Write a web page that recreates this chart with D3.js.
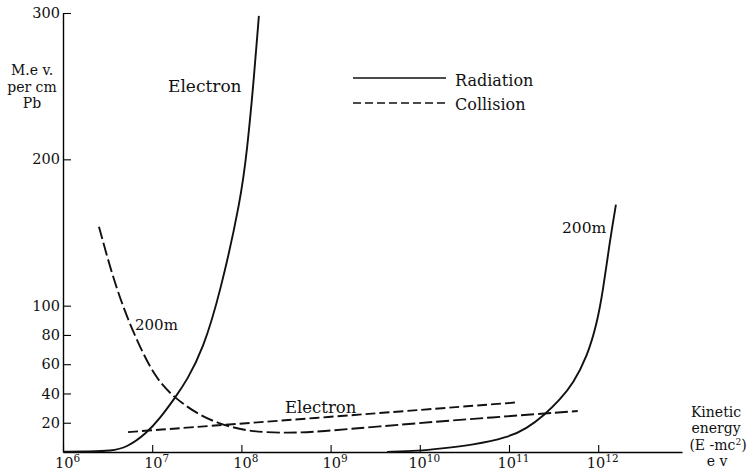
<!DOCTYPE html>
<html>
<head>
<meta charset="utf-8">
<script src="https://cdn.jsdelivr.net/npm/d3@7/dist/d3.min.js"></script>
<style>
  body { margin: 0; background: #fff; }
  text { font-family: "DejaVu Serif", serif; fill: #111; }
</style>
</head>
<body>
<script>
// energy loss of electrons and 200m particles in lead
const xTicks = [1e6, 1e7, 1e8, 1e9, 1e10, 1e11, 1e12];
const yTicks = [20, 40, 60, 80, 100, 200, 300];

// electron, radiation
const eRadE = [1e6, 2e6, 3.4e6, 5.2e6, 8.7e6, 1.22e7, 1.8e7, 2.45e7, 3.7e7, 5.75e7, 9.9e7, 1.16e8, 1.35e8, 1.57e8];
const eRadV = [0.2, 0.3, 0.7, 3, 13, 23, 37, 49, 70, 108, 173, 207, 248, 298];

// 200m, radiation
const mRadE = [4.3e9, 9.8e9, 1.68e10, 3.94e10, 9.5e10, 1.58e11, 2.5e11, 3.7e11, 5.25e11, 7.5e11, 9.7e11, 1.13e12, 1.35e12, 1.58e12];
const mRadV = [0, 0.8, 2.3, 4.8, 9.7, 16, 25.4, 35.5, 47, 65, 88, 110, 144, 169];

// 200m, collision
const mColE = [2.53e6, 3.37e6, 4.7e6, 6.76e6, 1.07e7, 1.8e7, 3.44e7, 5.3e7, 1.16e8, 3.5e8, 7.6e8, 3.58e9, 1.7e10, 5.9e11];
const mColV = [154, 126, 99, 76, 51, 36.5, 25, 20, 13.8, 12.9, 14, 17.5, 21, 28];

// electron, collision
const eColE = [5.36e6, 1e9, 1.29e11];
const eColV = [13.6, 24, 34];

const width = 754, height = 474;

const svg = d3.select("body").append("svg")
  .attr("width", width)
  .attr("height", height);

const x = d3.scaleLog().domain([1e6, 8.7e12]).range([63, 682]);
const y = d3.scaleLinear().domain([0, 300]).range([452, 13]);

// axes
const xAxis = svg.append("g")
  .attr("transform", `translate(0,${y(0)})`)
  .call(d3.axisBottom(x).tickValues(xTicks).tickSizeInner(-7).tickSizeOuter(0).tickFormat(""));
xAxis.select(".domain").attr("stroke-width", 1.4);
xAxis.selectAll(".tick line").attr("stroke-width", 1.1);
xAxis.selectAll(".tick").each(function(d) {
  const t = d3.select(this).append("text")
    .attr("x", 4)
    .attr("y", 16)
    .attr("text-anchor", "middle")
    .attr("font-size", 14.5);
  t.append("tspan").text("10");
  t.append("tspan").attr("dy", -6).attr("font-size", 10.5).text(Math.round(Math.log10(d)));
});

const yAxis = svg.append("g")
  .attr("transform", `translate(${x(1e6)},0)`)
  .call(d3.axisLeft(y).tickValues(yTicks).tickSizeInner(-8).tickSizeOuter(0).tickPadding(3));
yAxis.select(".domain").attr("stroke-width", 1.4);
yAxis.selectAll(".tick line").attr("stroke-width", 1.1);
yAxis.selectAll(".tick text").attr("font-size", 14.5);

// curves
const line = d3.line()
  .x(d => x(d[0]))
  .y(d => y(d[1]))
  .curve(d3.curveBasis);

const curves = [
  {E: eRadE, V: eRadV, dash: null},
  {E: mRadE, V: mRadV, dash: null},
  {E: mColE, V: mColV, dash: "13,4"},
  {E: eColE, V: eColV, dash: "10,4"}
];

svg.selectAll("path.curve")
  .data(curves)
  .join("path")
  .attr("class", "curve")
  .attr("d", c => line(d3.zip(c.E, c.V)))
  .attr("fill", "none")
  .attr("stroke", "#111")
  .attr("stroke-width", 1.9)
  .attr("stroke-dasharray", c => c.dash);

// curve labels
const labels = [
  {t: "Electron", x: 168, y: 92, s: 17},
  {t: "200m", x: 135, y: 330, s: 15},
  {t: "Electron", x: 285, y: 413, s: 16.5},
  {t: "200m", x: 562, y: 233, s: 15.5}
];
svg.selectAll("text.lbl")
  .data(labels)
  .join("text")
  .attr("class", "lbl")
  .attr("x", d => d.x)
  .attr("y", d => d.y)
  .attr("font-size", d => d.s)
  .text(d => d.t);

// legend
const legend = svg.append("g");
legend.append("line").attr("x1", 353).attr("x2", 446).attr("y1", 78).attr("y2", 78)
  .attr("stroke", "#111").attr("stroke-width", 1.3);
legend.append("line").attr("x1", 353).attr("x2", 446).attr("y1", 103).attr("y2", 103)
  .attr("stroke", "#111").attr("stroke-width", 1.3).attr("stroke-dasharray", "8,4");
legend.append("text").attr("x", 455).attr("y", 86).attr("font-size", 16).text("Radiation");
legend.append("text").attr("x", 455).attr("y", 110).attr("font-size", 16).text("Collision");

// y title
svg.append("text")
  .attr("text-anchor", "middle")
  .attr("font-size", 14)
  .selectAll("tspan")
  .data(["M.e v.", "per cm", "Pb"])
  .join("tspan")
  .attr("x", 32)
  .attr("y", (d, i) => 75 + i * 16.5)
  .text(d => d);

// x title
const xt = svg.append("g").attr("font-size", 14);
xt.append("text").attr("text-anchor", "middle").attr("x", 716).attr("y", 417).text("Kinetic");
xt.append("text").attr("text-anchor", "middle").attr("x", 716).attr("y", 433).text("energy");
const e3 = xt.append("text").attr("text-anchor", "middle").attr("x", 718).attr("y", 450);
e3.append("tspan").text("(E -mc");
e3.append("tspan").attr("dy", -5).attr("font-size", 9).text("2");
e3.append("tspan").attr("dy", 5).text(")");
xt.append("text").attr("text-anchor", "middle").attr("x", 717).attr("y", 466).text("e v");
</script>
</body>
</html>
